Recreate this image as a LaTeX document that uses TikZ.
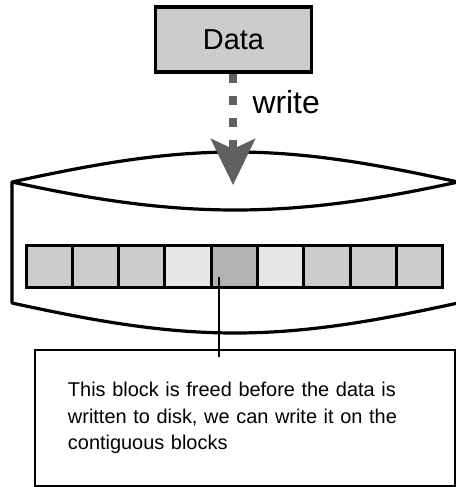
\documentclass[tikz,border=0pt]{standalone}
\usepackage{fontspec}
\setmainfont{Liberation Sans}
\usepackage{xcolor}
\definecolor{cellgray}{HTML}{CCCCCC}
\definecolor{freegray}{HTML}{E6E6E6}
\definecolor{heldgray}{HTML}{B3B3B3}
\definecolor{arrowgray}{HTML}{606060}
\usetikzlibrary{arrows.meta,positioning}

\begin{document}
\begin{tikzpicture}[x=1bp, y=-1bp,
    diskline/.style={line width=3.2bp, line join=round},
    cell/.style={draw, line width=3bp, fill=#1, minimum width=46.3bp, minimum height=42bp, inner sep=0pt}]
  \clip (0,0) rectangle (456,487);
  % Data to be written
  \node[draw, line width=3.5bp, fill=cellgray, minimum width=156bp, minimum height=65bp,
        font=\fontsize{29}{33}\selectfont] (data) at (233.5,39.5) {Data};
  % Disk: top lens
  \draw[diskline] (12,182) .. controls (90,165) and (160,152) .. (235,152)
     .. controls (310,152) and (380,165) .. (458,182)
     .. controls (380,199) and (310,210) .. (235,210)
     .. controls (160,210) and (90,199) .. (12,182) -- cycle;
  % Disk: body
  \draw[diskline] (12,182) -- (12,303) .. controls (90,320) and (160,333) .. (235,333)
     .. controls (310,333) and (380,320) .. (458,303) -- (458,182);
  % Blocks on the disk
  \foreach \shade [count=\i] in {cellgray,cellgray,cellgray,freegray,heldgray,freegray,cellgray,cellgray,cellgray}
    \node[cell=\shade] (b\i) at ({26+46.3*(\i-0.5)},266) {};
  % Write arrow
  \coordinate (hit) at (233,185);
  \draw[line width=7.5bp, arrowgray, dash pattern=on 9bp off 13bp,
        -{Stealth[length=46bp,width=44bp,inset=10bp]}] (data.south -| hit) -- (hit);
  \node[anchor=base west, font=\fontsize{32}{36}\selectfont] (writelbl) at (249,114) {write};
  % Callout
  \node[draw, line width=1.7bp, minimum width=420bp, minimum height=136bp, text width=354bp,
        inner xsep=33bp, align=left, font=\fontsize{20}{26.5}\selectfont] (note) at (245,418)
        {This block is freed before the data is\\written to disk, we can write it on the\\contiguous blocks};
  \coordinate (pin) at (219,277);
  \draw[line width=1.3bp] (pin) -- ([yshift=-8bp]pin |- note.north);
\end{tikzpicture}
\end{document}
